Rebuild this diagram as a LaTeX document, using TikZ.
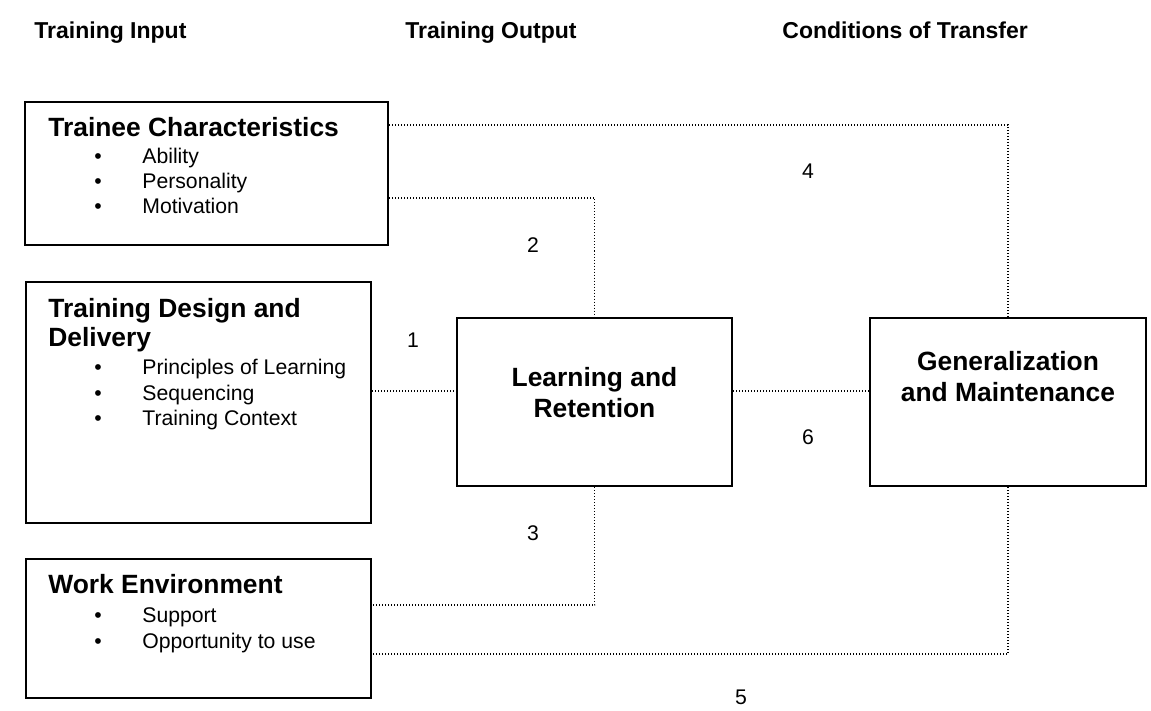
\documentclass[tikz,border=0pt]{standalone}
\usepackage{fontspec}
\setmainfont{Liberation Sans}
\usetikzlibrary{positioning, calc}

\begin{document}
\begin{tikzpicture}[
    x=0.5pt, y=-0.5pt,
    box/.style={draw, line width=1pt, rectangle, inner sep=0pt},
    link/.style={line width=0.6pt, dash pattern=on 0.5pt off 1pt},
    head/.style={font=\fontsize{11.5}{14}\selectfont\bfseries, anchor=base west, inner sep=0pt},
    boxtitle/.style={font=\fontsize{13.2}{14.5}\selectfont\bfseries, anchor=base west, inner sep=0pt, align=left},
    midtitle/.style={font=\fontsize{13.2}{15.5}\selectfont\bfseries, anchor=base, inner sep=0pt, align=center},
    item/.style={font=\fontsize{10.6}{12}\selectfont, anchor=base west, inner sep=0pt},
    num/.style={font=\fontsize{10.6}{12}\selectfont, inner sep=0pt}
]
    \useasboundingbox (0,0) rectangle (1151,711);

    % column headings
    \node[head] (hIn)  at (34,39)  {Training Input};
    \node[head] (hOut) at (405,39) {Training Output};
    \node[head] (hCon) at (782,39) {Conditions of Transfer};

    % boxes
    \node[box, minimum width=181.5pt, minimum height=71.5pt]  (TC)  at (206.5,173.5) {};
    \node[box, minimum width=172.5pt, minimum height=120.5pt] (TD)  at (198.5,402.5) {};
    \node[box, minimum width=172.5pt, minimum height=69.5pt]  (WE)  at (198.5,628.5) {};
    \node[box, minimum width=137.5pt, minimum height=84pt]    (LR)  at (594.5,402) {};
    \node[box, minimum width=138pt,   minimum height=84pt]    (Gen) at (1008,402) {};

    % box texts (base = last line)
    \node[boxtitle] (tcT) at (48,137) {Trainee Characteristics};
    \foreach \t [count=\i] in {Ability, Personality, Motivation}
        \node[item] (tc\i) at (94,{139+25*\i}) {\makebox[24pt][l]{\textbullet}\t};

    \node[boxtitle] (tdT) at (48,346) {Training Design and\\Delivery};
    \foreach \t [count=\i] in {Principles of Learning, Sequencing, Training Context}
        \node[item] (td\i) at (94,{349+25.5*\i}) {\makebox[24pt][l]{\textbullet}\t};

    \node[boxtitle] (weT) at (48,593) {Work Environment};
    \foreach \t [count=\i] in {Support, Opportunity to use}
        \node[item] (we\i) at (94,{597+25.5*\i}) {\makebox[24pt][l]{\textbullet}\t};

    \node[midtitle] (lrT)  at (594.5,417) {Learning and\\Retention};
    \node[midtitle] (genT) at (1008,401) {Generalization\\and Maintenance};

    % dotted links
    \coordinate (y4) at (0,125);
    \coordinate (y2) at (0,198);
    \coordinate (y1) at (0,391);
    \coordinate (y3) at (0,605);
    \coordinate (y5) at (0,654);
    \draw[link] (TC.east |- y4) -| (Gen.north);
    \draw[link] (TC.east |- y2) -| (LR.north);
    \draw[link] (TD.east |- y1) -- (LR.west |- y1);
    \draw[link] (LR.east |- y1) -- (Gen.west |- y1);
    \draw[link] (LR.south) |- (WE.east |- y3);
    \draw[link] (Gen.south) |- (WE.east |- y5);

    % link numbers
    \node[num] (n1) at (413,340) {1};
    \node[num] (n2) at (533,245) {2};
    \node[num] (n3) at (533,533) {3};
    \node[num] (n4) at (808,171) {4};
    \node[num] (n5) at (741,697) {5};
    \node[num] (n6) at (808,437) {6};
\end{tikzpicture}
\end{document}
